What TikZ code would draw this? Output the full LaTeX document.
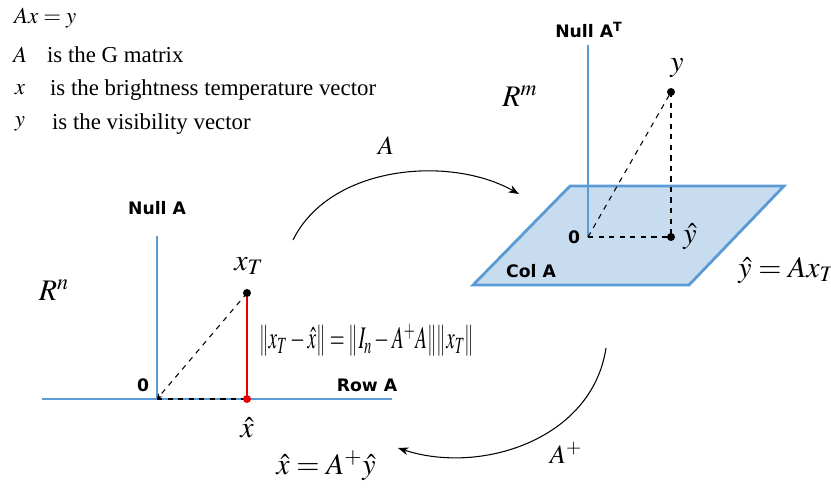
\documentclass[tikz,border=0pt]{standalone}
\usepackage{mathptmx}
\usepackage{fontspec}
\setmainfont{Liberation Serif}
\newfontfamily\labelfont{DejaVu Sans}
\usetikzlibrary{arrows.meta}
\definecolor{axisblue}{RGB}{91,155,213}
\definecolor{planeblue}{RGB}{200,220,240}
\definecolor{normred}{RGB}{230,0,0}
\tikzset{
  axis/.style={draw=axisblue, line width=1.6pt},
  proj/.style={dashed, line width=0.6pt},
  maplabel/.style={inner sep=1pt, font=\fontsize{13}{15}\selectfont},
  sublabel/.style={inner sep=1pt, font=\labelfont\bfseries\fontsize{9.8}{11}\selectfont},
  bigmath/.style={inner sep=1pt, font=\fontsize{17}{20}\selectfont},
  arrowlabel/.style={inner sep=1pt, font=\fontsize{15}{18}\selectfont},
}
\begin{document}
\begin{tikzpicture}[x=0.02cm,y=-0.02cm,>={Stealth[length=6pt,width=4.5pt]}]
\useasboundingbox (0,0) rectangle (831,488);

% legend
\node[maplabel, anchor=west] (eqn) at (12,18) {$Ax=y$};
\node[maplabel] (symA) at (20,55) {$A$};
\node[maplabel, anchor=west] (txtA) at (45,55) {is the G matrix};
\node[maplabel] (symx) at (20,90) {$x$};
\node[maplabel, anchor=west] (txtx) at (48,90) {is the brightness temperature vector};
\node[maplabel] (symy) at (20,124) {$y$};
\node[maplabel, anchor=west] (txty) at (50,124) {is the visibility vector};

% domain R^n
\coordinate (rowL) at (42,399);
\coordinate (rowR) at (392,399);
\coordinate (O1) at (157,399);
\coordinate (nullTop) at (157,236);
\coordinate (xT) at (247,293);
\coordinate (xh) at (247,399);
\draw[axis] (rowL) -- (rowR);
\draw[axis] (O1) -- (nullTop);
\draw[proj, -{Stealth[length=3pt,width=3pt]}] (xT) -- (O1);
\draw[proj] (O1) -- (xh);
\draw[normred, line width=1.6pt] (xT) -- (xh);
\fill (xT) circle (4);
\fill[normred] (xh) circle (4);
\node[sublabel] (nullA) at (157,208) {Null A};
\node[sublabel] (zero1) at (143,385) {0};
\node[sublabel] (rowA) at (367,385) {Row A};
\node[bigmath] (Rn) at (54,290) {$R^n$};
\node[bigmath] (xTlab) at (249,266) {$x_T$};
\node[bigmath] (xhlab) at (247,428) {$\hat{x}$};
\node[bigmath, anchor=west] (norm) at (257,340)
  {\scalebox{0.64}[1.05]{$\|x_T-\hat{x}\|=\|I_n-A^{+}A\|\|x_T\|$}};
\node[bigmath] (xhy) at (326,466) {$\hat{x}=A^{+}\hat{y}$};

% codomain R^m
\coordinate (O2) at (588,237);
\coordinate (nullTTop) at (588,45);
\coordinate (yp) at (671,92);
\coordinate (yh) at (671,237);
\filldraw[fill=planeblue, draw=axisblue, line width=1.6pt]
  (570,186) -- (784,186) -- (689,285) -- (473,285) -- cycle;
\draw[axis] (O2) -- (nullTTop);
\draw[proj] (O2) -- (yp);
\draw[proj] (yp) -- (yh);
\draw[proj] (O2) -- (yh);
\fill (yp) circle (4);
\fill (yh) circle (4);
\node[sublabel] (nullAT) at (589,30) {Null A\textsuperscript{T}};
\node[sublabel] (zero2) at (574,237) {0};
\node[sublabel] (colA) at (531,271) {Col A};
\node[bigmath] (Rm) at (520,96) {$R^m$};
\node[bigmath] (ylab) at (677,68) {$y$};
\node[bigmath] (yhlab) at (690,237) {$\hat{y}$};
\node[bigmath] (yhAx) at (787,270) {$\hat{y}=Ax_T$};

% mappings
\coordinate (fwdS) at (293,240);
\coordinate (fwdE) at (519,194);
\coordinate (invS) at (606,348);
\coordinate (invE) at (398,448);
\draw[->, line width=0.6pt] (fwdS) .. controls (330,165) and (450,155) .. (fwdE);
\draw[->, line width=0.6pt] (invS) .. controls (592,440) and (480,475) .. (invE);
\node[arrowlabel] (mapA) at (386,146) {$A$};
\node[arrowlabel] (mapAp) at (566,453) {$A^{+}$};
\end{tikzpicture}
\end{document}
